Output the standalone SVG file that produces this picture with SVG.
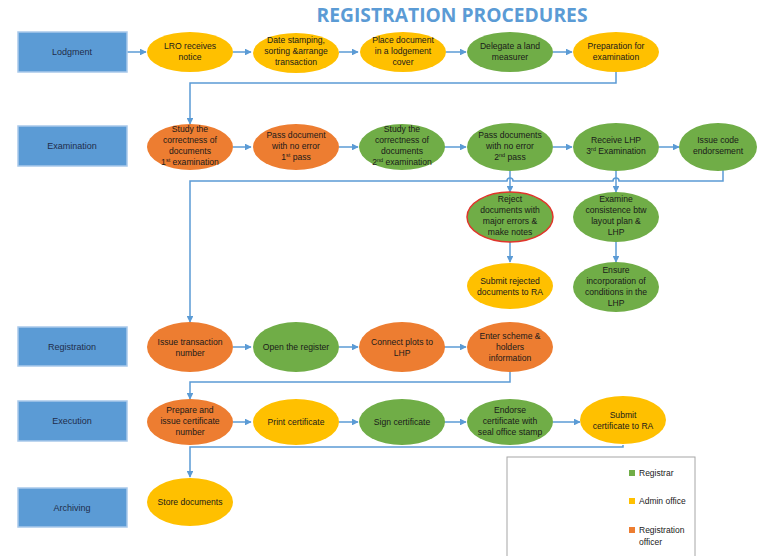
<svg xmlns="http://www.w3.org/2000/svg" width="758" height="556" viewBox="0 0 758 556">
<style>
.lane{fill:#5b9bd5;stroke:#a9c9ea;stroke-width:1.5}
.lt{font-family:"Liberation Sans",Arial,sans-serif;font-size:9px;fill:#1f2d4a;text-anchor:middle}
.t{font-family:"Liberation Sans",Arial,sans-serif;font-size:8.6px;fill:#1a1a1a;text-anchor:middle}
.y{fill:#ffc000}
.g{fill:#70ad47}
.o{fill:#ed7d31}
.c{fill:none;stroke:#5b9bd5;stroke-width:1.5}
.a{marker-end:url(#ah)}
.sup{font-size:5.5px}
.leg{font-family:"Liberation Sans",Arial,sans-serif;font-size:8.5px;fill:#1a1a1a}
</style>
<defs>
<marker id="ah" viewBox="0 0 10 10" refX="9" refY="5" markerWidth="4.5" markerHeight="4.5" orient="auto" markerUnits="strokeWidth">
<path d="M0,0 L10,5 L0,10 z" fill="#5b9bd5"/>
</marker>
</defs>
<rect width="758" height="556" fill="#ffffff"/>
<text x="452" y="22" font-family="'Open Sans','Liberation Sans',sans-serif" font-size="20" font-weight="bold" fill="#5b9bd5" text-anchor="middle" textLength="271" lengthAdjust="spacingAndGlyphs">REGISTRATION PROCEDURES</text>

<g id="connectors">
<path class="c a" d="M127,52 H146"/>
<path class="c a" d="M233,52 H251"/>
<path class="c a" d="M339,52 H358"/>
<path class="c a" d="M446,52 H466"/>
<path class="c a" d="M553,52 H572"/>
<path class="c a" d="M616,72 V83 H190 V124"/>
<path class="c a" d="M233,147 H251"/>
<path class="c a" d="M339,147 H358"/>
<path class="c a" d="M444,147 H466"/>
<path class="c a" d="M553,147 H572"/>
<path class="c a" d="M659,147 H679"/>
<path class="c a" d="M723,169 V181 H619 A3,3 0 0 0 613,181 H513 A3,3 0 0 0 507,181 H190 V322"/>
<path class="c a" d="M510,171 V192"/>
<path class="c a" d="M616,171 V192"/>
<path class="c a" d="M510,242 V262"/>
<path class="c a" d="M616,242 V262"/>
<path class="c a" d="M233,347 H251"/>
<path class="c a" d="M339,347 H358"/>
<path class="c a" d="M444,347 H466"/>
<path class="c a" d="M510,372 V382 H190 V399"/>
<path class="c a" d="M233,422 H251"/>
<path class="c a" d="M339,422 H358"/>
<path class="c a" d="M444,422 H466"/>
<path class="c a" d="M553,422 H580"/>
<path class="c a" d="M623,445 V447 H190 V477"/>
</g>

<g id="lane-lodgment"><rect class="lane" x="18" y="32" width="109" height="40"/><text class="lt" x="72" y="55">Lodgment</text></g>
<g id="lane-examination"><rect class="lane" x="18" y="126" width="109" height="40"/><text class="lt" x="72" y="149">Examination</text></g>
<g id="lane-registration"><rect class="lane" x="18" y="327" width="109" height="39"/><text class="lt" x="72" y="350">Registration</text></g>
<g id="lane-execution"><rect class="lane" x="18" y="401" width="109" height="40"/><text class="lt" x="72" y="424">Execution</text></g>
<g id="lane-archiving"><rect class="lane" x="18" y="488" width="109" height="39"/><text class="lt" x="72" y="511">Archiving</text></g>

<g id="n-lro"><ellipse class="y" cx="190" cy="52" rx="43" ry="20"/><text class="t" x="190" y="49">LRO receives</text><text class="t" x="190" y="60">notice</text></g>
<g id="n-date"><ellipse class="y" cx="296" cy="53" rx="43" ry="20"/><text class="t" x="296" y="43">Date stamping,</text><text class="t" x="296" y="54">sorting &amp;arrange</text><text class="t" x="296" y="65">transaction</text></g>
<g id="n-place"><ellipse class="y" cx="403" cy="52" rx="43" ry="20"/><text class="t" x="403" y="43">Place document</text><text class="t" x="403" y="54">in a lodgement</text><text class="t" x="403" y="65">cover</text></g>
<g id="n-delegate"><ellipse class="g" cx="510" cy="52" rx="43" ry="20"/><text class="t" x="510" y="49">Delegate a land</text><text class="t" x="510" y="60">measurer</text></g>
<g id="n-prep"><ellipse class="y" cx="616" cy="52" rx="43" ry="20"/><text class="t" x="616" y="49">Preparation for</text><text class="t" x="616" y="60">examination</text></g>

<g id="n-study1"><ellipse class="o" cx="190" cy="147" rx="43" ry="23"/><text class="t" x="190" y="132">Study the</text><text class="t" x="190" y="143">correctness of</text><text class="t" x="190" y="154">documents</text><text class="t" x="190" y="165">1<tspan class="sup" dy="-3">st</tspan><tspan dy="3"> examination</tspan></text></g>
<g id="n-pass1"><ellipse class="o" cx="296" cy="147" rx="43" ry="23"/><text class="t" x="296" y="138">Pass document</text><text class="t" x="296" y="149">with no error</text><text class="t" x="296" y="160">1<tspan class="sup" dy="-3">st</tspan><tspan dy="3"> pass</tspan></text></g>
<g id="n-study2"><ellipse class="g" cx="402" cy="147" rx="43" ry="23"/><text class="t" x="402" y="132">Study the</text><text class="t" x="402" y="143">correctness of</text><text class="t" x="402" y="154">documents</text><text class="t" x="402" y="165">2<tspan class="sup" dy="-3">nd</tspan><tspan dy="3"> examination</tspan></text></g>
<g id="n-pass2"><ellipse class="g" cx="510" cy="147" rx="43" ry="24"/><text class="t" x="510" y="138">Pass documents</text><text class="t" x="510" y="149">with no error</text><text class="t" x="510" y="160">2<tspan class="sup" dy="-3">nd</tspan><tspan dy="3"> pass</tspan></text></g>
<g id="n-receive"><ellipse class="g" cx="616" cy="147" rx="43" ry="24"/><text class="t" x="616" y="143">Receive LHP</text><text class="t" x="616" y="154">3<tspan class="sup" dy="-3">rd</tspan><tspan dy="3"> Examination</tspan></text></g>
<g id="n-issuecode"><ellipse class="g" cx="718" cy="147" rx="39" ry="24"/><text class="t" x="718" y="143">Issue code</text><text class="t" x="718" y="154">endorsement</text></g>

<g id="n-reject"><ellipse class="g" cx="510" cy="217" rx="43" ry="25" stroke="#e0352b" stroke-width="1.5"/><text class="t" x="510" y="202">Reject</text><text class="t" x="510" y="213">documents with</text><text class="t" x="510" y="224">major errors &amp;</text><text class="t" x="510" y="235">make notes</text></g>
<g id="n-examine"><ellipse class="g" cx="616" cy="217" rx="43" ry="25"/><text class="t" x="616" y="202">Examine</text><text class="t" x="616" y="213">consistence btw</text><text class="t" x="616" y="224">layout plan &amp;</text><text class="t" x="616" y="235">LHP</text></g>
<g id="n-submitrej"><ellipse class="y" cx="510" cy="286" rx="43" ry="23"/><text class="t" x="510" y="284">Submit rejected</text><text class="t" x="510" y="295">documents to RA</text></g>
<g id="n-ensure"><ellipse class="g" cx="616" cy="287" rx="43" ry="25"/><text class="t" x="616" y="273">Ensure</text><text class="t" x="616" y="284">incorporation of</text><text class="t" x="616" y="295">conditions in the</text><text class="t" x="616" y="306">LHP</text></g>

<g id="n-issuetx"><ellipse class="o" cx="190" cy="347" rx="43" ry="25"/><text class="t" x="190" y="345">Issue transaction</text><text class="t" x="190" y="356">number</text></g>
<g id="n-open"><ellipse class="g" cx="296" cy="347" rx="43" ry="25"/><text class="t" x="296" y="350">Open the register</text></g>
<g id="n-connect"><ellipse class="o" cx="402" cy="347" rx="43" ry="25"/><text class="t" x="402" y="345">Connect plots to</text><text class="t" x="402" y="356">LHP</text></g>
<g id="n-enter"><ellipse class="o" cx="510" cy="347" rx="43" ry="25"/><text class="t" x="510" y="339">Enter scheme &amp;</text><text class="t" x="510" y="350">holders</text><text class="t" x="510" y="361">information</text></g>

<g id="n-prepare"><ellipse class="o" cx="190" cy="422" rx="43" ry="23"/><text class="t" x="190" y="413">Prepare and</text><text class="t" x="190" y="424">issue certificate</text><text class="t" x="190" y="435">number</text></g>
<g id="n-print"><ellipse class="y" cx="296" cy="422" rx="43" ry="23"/><text class="t" x="296" y="425">Print certificate</text></g>
<g id="n-sign"><ellipse class="g" cx="402" cy="422" rx="43" ry="23"/><text class="t" x="402" y="425">Sign certificate</text></g>
<g id="n-endorse"><ellipse class="g" cx="510" cy="422" rx="43" ry="23"/><text class="t" x="510" y="413">Endorse</text><text class="t" x="510" y="424">certificate with</text><text class="t" x="510" y="435">seal office stamp</text></g>
<g id="n-submitcert"><ellipse class="y" cx="623" cy="420" rx="43" ry="24"/><text class="t" x="623" y="418">Submit</text><text class="t" x="623" y="429">certificate to RA</text></g>

<g id="n-store"><ellipse class="y" cx="190" cy="502" rx="43" ry="24"/><text class="t" x="190" y="505">Store documents</text></g>

<g id="legend">
<rect x="507" y="457" width="188" height="104" fill="#ffffff" stroke="#a6a6a6" stroke-width="1"/>
<rect x="629" y="470" width="6" height="6" fill="#70ad47"/><text class="leg" x="639" y="476">Registrar</text>
<rect x="629" y="498" width="6" height="6" fill="#ffc000"/><text class="leg" x="639" y="504">Admin office</text>
<rect x="629" y="527" width="6" height="6" fill="#ed7d31"/><text class="leg" x="639" y="533">Registration</text><text class="leg" x="639" y="545">officer</text>
</g>
</svg>
